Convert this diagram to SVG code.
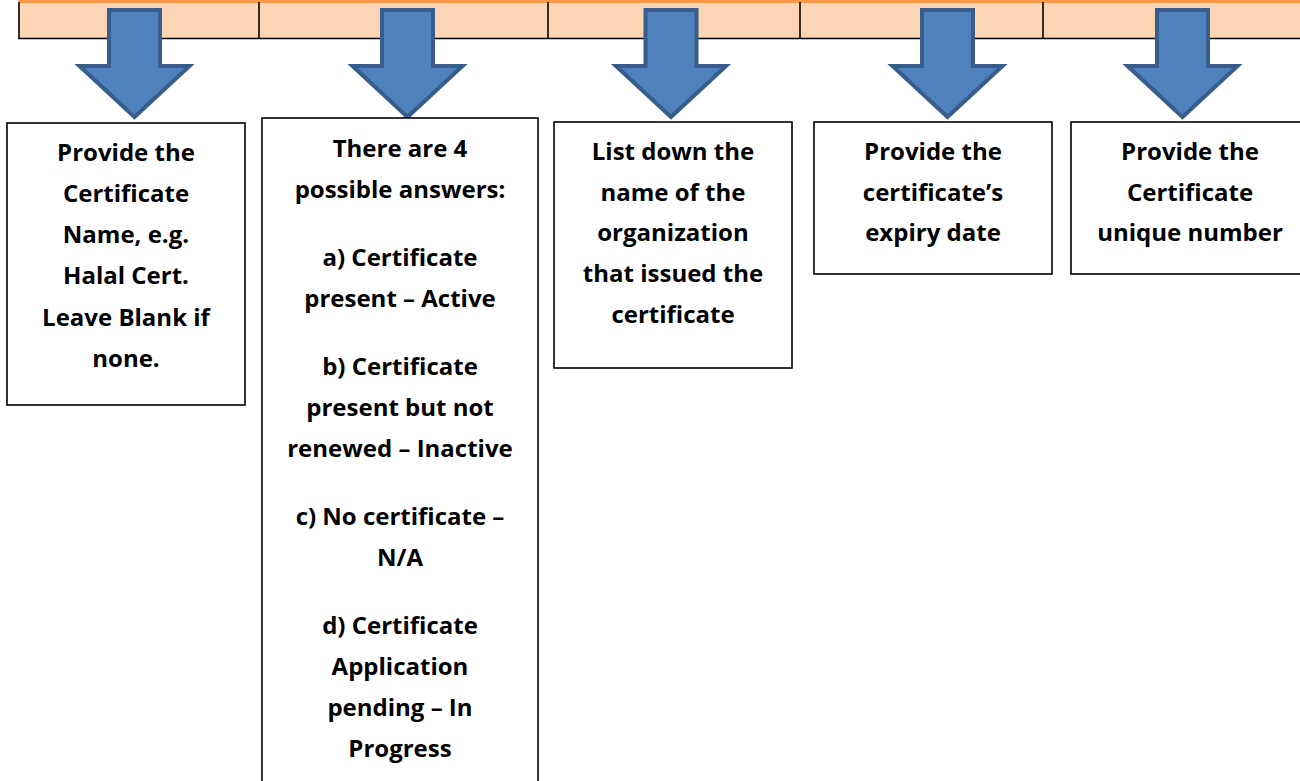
<svg xmlns="http://www.w3.org/2000/svg" width="1300" height="781" viewBox="0 0 1300 781">
<defs>
<style>
.cell{fill:#fcd5b4;stroke:none}
.grid{stroke:#000;stroke-width:1.6;fill:none}
.box{fill:#fff;stroke:#000;stroke-width:1.6}
.t{font-family:"Open Sans","Noto Sans","Liberation Sans",sans-serif;font-weight:bold;font-size:24px;fill:#000;text-anchor:middle}
.arr{fill:#4f81bd;stroke:#385d8a;stroke-width:4;stroke-linejoin:miter}
</style>
<path id="barrow" d="M-25.5,10 H25.5 V66 H55 L0,117 L-55,66 H-25.5 Z"/>
</defs>
<rect width="1300" height="781" fill="#fff"/>
<g id="table">
<rect class="cell" x="18.5" y="2" width="1290" height="36.5"/>
<line x1="18.5" y1="1.5" x2="1300" y2="1.5" stroke="#f79646" stroke-width="3"/>
<line class="grid" x1="18.5" y1="38.5" x2="1300" y2="38.5"/>
<line class="grid" x1="19" y1="2" x2="19" y2="39"/>
<line class="grid" x1="259" y1="2" x2="259" y2="39"/>
<line class="grid" x1="548" y1="2" x2="548" y2="39"/>
<line class="grid" x1="800" y1="2" x2="800" y2="39"/>
<line class="grid" x1="1043" y1="2" x2="1043" y2="39"/>
</g>
<g id="connectors">
<use href="#barrow" class="arr" transform="translate(134.5,0)"/>
<use href="#barrow" class="arr" transform="translate(407.5,0)"/>
<use href="#barrow" class="arr" transform="translate(671,0)"/>
<use href="#barrow" class="arr" transform="translate(947.5,0)"/>
<use href="#barrow" class="arr" transform="translate(1182.5,0)"/>
</g>
<g id="node1">
<rect class="box" x="7" y="123" width="238" height="282"/>
<text class="t" x="126" y="161">Provide the</text>
<text class="t" x="126" y="202">Certificate</text>
<text class="t" x="126" y="243">Name, e.g.</text>
<text class="t" x="126" y="284">Halal Cert.</text>
<text class="t" x="126" y="326">Leave Blank if</text>
<text class="t" x="126" y="367">none.</text>
</g>
<g id="node2">
<rect class="box" x="262" y="118" width="276" height="672"/>
<text class="t" x="400" y="157">There are 4</text>
<text class="t" x="400" y="198">possible answers:</text>
<text class="t" x="400" y="266">a) Certificate</text>
<text class="t" x="400" y="307">present – Active</text>
<text class="t" x="400" y="375">b) Certificate</text>
<text class="t" x="400" y="416">present but not</text>
<text class="t" x="400" y="457">renewed – Inactive</text>
<text class="t" x="400" y="525">c) No certificate –</text>
<text class="t" x="400" y="566">N/A</text>
<text class="t" x="400" y="634">d) Certificate</text>
<text class="t" x="400" y="675">Application</text>
<text class="t" x="400" y="716">pending – In</text>
<text class="t" x="400" y="757">Progress</text>
</g>
<g id="node3">
<rect class="box" x="554" y="122" width="238" height="246"/>
<text class="t" x="673" y="160">List down the</text>
<text class="t" x="673" y="201">name of the</text>
<text class="t" x="673" y="241">organization</text>
<text class="t" x="673" y="282">that issued the</text>
<text class="t" x="673" y="323">certificate</text>
</g>
<g id="node4">
<rect class="box" x="814" y="122" width="238" height="152"/>
<text class="t" x="933" y="160">Provide the</text>
<text class="t" x="933" y="201">certificate’s</text>
<text class="t" x="933" y="241">expiry date</text>
</g>
<g id="node5">
<rect class="box" x="1071" y="122" width="240" height="152"/>
<text class="t" x="1190" y="160">Provide the</text>
<text class="t" x="1190" y="201">Certificate</text>
<text class="t" x="1190" y="241">unique number</text>
</g>
</svg>
